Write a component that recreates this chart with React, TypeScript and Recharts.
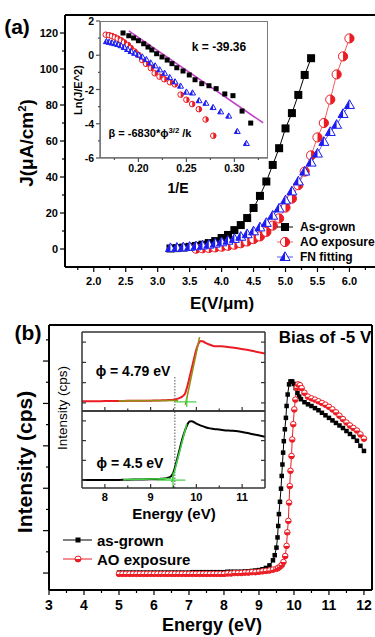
import React from 'react';
import { ComposedChart, Line, XAxis, YAxis, ReferenceLine } from 'recharts';

const FONT = '"Liberation Sans", Arial, Helvetica, sans-serif';
const RED = '#ec1c24';
const BLUE = '#1c1cf0';
const MAGENTA = '#c23fc9';
const GREEN = '#3fd13f';
const OLIVE = '#9a8a18';

// ===== (a) J-E curves =====
const aAsGrownE = [3.2, 3.3, 3.4, 3.5, 3.6, 3.7, 3.8, 3.9, 4.0, 4.1, 4.2, 4.3, 4.4, 4.5, 4.6, 4.7, 4.8, 4.9, 5.0, 5.1, 5.2, 5.3, 5.4];
const aAsGrownJ = [0.3, 0.5, 0.8, 1.2, 1.7, 2.4, 3.3, 4.4, 6.1, 7.8, 10.5, 13.3, 17.2, 22.8, 29.5, 37.5, 46.7, 56.0, 67.0, 75.5, 85.6, 96.7, 106.0];
const aAOE = [3.6, 3.7, 3.8, 3.9, 4.0, 4.1, 4.2, 4.3, 4.4, 4.5, 4.6, 4.7, 4.8, 4.9, 5.0, 5.1, 5.2, 5.3, 5.4, 5.5, 5.6, 5.7, 5.8, 5.9, 6.0];
const aAOJ = [0.2, 0.4, 0.6, 0.9, 1.3, 1.8, 2.4, 3.2, 4.2, 5.5, 7.0, 9.5, 13.0, 17.0, 23.0, 28.0, 35.5, 43.0, 52.0, 62.0, 70.0, 83.0, 97.0, 107.0, 117.0];
const aFNE = [3.2, 3.3, 3.4, 3.5, 3.6, 3.7, 3.8, 3.9, 4.0, 4.1, 4.2, 4.3, 4.4, 4.5, 4.6, 4.7, 4.8, 4.9, 5.0, 5.1, 5.2, 5.3, 5.4, 5.5, 5.6, 5.7, 5.8, 5.9, 6.0];
const aFNJ = [0.5, 0.7, 0.9, 1.2, 1.5, 1.9, 2.4, 3.0, 3.7, 4.6, 5.6, 6.8, 8.2, 9.8, 12.0, 14.5, 18.5, 22.5, 27.0, 32.0, 37.5, 43.0, 48.0, 53.0, 59.5, 65.0, 69.0, 75.0, 80.0];
const aXTicks = [1.75, 2.0, 2.25, 2.5, 2.75, 3.0, 3.25, 3.5, 3.75, 4.0, 4.25, 4.5, 4.75, 5.0, 5.25, 5.5, 5.75, 6.0, 6.25];
const aXLabels = [2.0, 2.5, 3.0, 3.5, 4.0, 4.5, 5.0, 5.5, 6.0];
const aYTicks = [0, 10, 20, 30, 40, 50, 60, 70, 80, 90, 100, 110, 120];
const aYLabels = [0, 20, 40, 60, 80, 100, 120];

// ===== (a) inset: FN plot =====
const iaAsGrownX = [0.184, 0.19, 0.195, 0.2, 0.2055, 0.21, 0.214, 0.219, 0.2246, 0.23, 0.235, 0.24, 0.2465, 0.253, 0.259, 0.266, 0.2735, 0.281, 0.29, 0.2985, 0.308, 0.317];
const iaAsGrownY = [1.3, 1.14, 1.01, 0.85, 0.67, 0.48, 0.31, 0.09, -0.1, -0.28, -0.49, -0.73, -0.92, -1.15, -1.43, -1.66, -1.78, -1.95, -2.26, -2.36, -3.26, -3.96];
const iaAOX = [0.166, 0.1695, 0.1725, 0.1755, 0.1785, 0.182, 0.185, 0.189, 0.192, 0.196, 0.2, 0.204, 0.208, 0.213, 0.217, 0.222, 0.227, 0.233, 0.238, 0.244, 0.25, 0.256, 0.263, 0.27, 0.278];
const iaAOY = [1.2, 1.17, 1.12, 1.05, 0.97, 0.87, 0.75, 0.6, 0.42, 0.22, 0.02, -0.28, -0.5, -0.75, -1.05, -1.25, -1.4, -1.58, -1.7, -2.3, -2.6, -2.85, -3.15, -3.75, -4.7];
const iaFNX = [0.1667, 0.1695, 0.1724, 0.1754, 0.1786, 0.1818, 0.1852, 0.1887, 0.1923, 0.1961, 0.2, 0.2041, 0.2083, 0.2128, 0.2174, 0.2222, 0.2273, 0.2326, 0.2381, 0.2439, 0.25, 0.2564, 0.2632, 0.2703, 0.2778, 0.2857, 0.2941, 0.303, 0.3125];
const iaFNY = [0.8, 0.76, 0.72, 0.68, 0.63, 0.56, 0.46, 0.34, 0.22, 0.12, 0.02, -0.1, -0.25, -0.45, -0.62, -0.85, -1.05, -1.3, -1.55, -1.8, -2.15, -2.2, -2.65, -2.8, -3.05, -3.3, -3.55, -4.45, -5.15];
const iaFitX = [0.19, 0.33];
const iaFitY = [1.42, -3.95];
const iaXTicks = [0.175, 0.2, 0.225, 0.25, 0.275, 0.3, 0.325];
const iaXLabels = [0.2, 0.25, 0.3];
const iaYTicks = [-6, -5, -4, -3, -2, -1, 0, 1, 2];
const iaYLabels = [-6, -4, -2, 0, 2];

// ===== (b) UPS spectra =====
const bAsGrownE = [5.0, 5.1, 5.2, 5.3, 5.4, 5.5, 5.6, 5.7, 5.8, 5.9, 6.0, 6.1, 6.2, 6.3, 6.4, 6.5, 6.6, 6.7, 6.8, 6.9, 7.0, 7.1, 7.2, 7.3, 7.4, 7.5, 7.6, 7.7, 7.8, 7.9, 8.0, 8.1, 8.2, 8.3, 8.4, 8.5, 8.6, 8.7, 8.8, 8.9, 9.0, 9.1, 9.2, 9.3, 9.4, 9.45, 9.5, 9.53, 9.55, 9.57, 9.6, 9.63, 9.65, 9.67, 9.69, 9.71, 9.74, 9.77, 9.79, 9.82, 9.86, 9.9, 9.95, 10.0, 10.05, 10.1, 10.15, 10.2, 10.3, 10.4, 10.5, 10.6, 10.7, 10.8, 10.9, 11.0, 11.1, 11.2, 11.3, 11.4, 11.5, 11.6, 11.7, 11.8, 11.9, 12.0];
const bAsGrownI = [0.01, 0.01, 0.01, 0.01, 0.01, 0.01, 0.01, 0.01, 0.01, 0.01, 0.01, 0.01, 0.01, 0.01, 0.01, 0.01, 0.01, 0.01, 0.01, 0.01, 0.01, 0.02, 0.02, 0.02, 0.02, 0.02, 0.02, 0.02, 0.02, 0.02, 0.02, 0.03, 0.03, 0.03, 0.03, 0.03, 0.04, 0.04, 0.05, 0.06, 0.07, 0.09, 0.12, 0.18, 0.3, 0.42, 0.6, 0.84, 1.11, 1.39, 1.68, 1.99, 2.29, 2.56, 2.84, 3.11, 3.39, 3.66, 3.94, 4.21, 4.45, 4.52, 4.52, 4.46, 4.36, 4.25, 4.16, 4.1, 4.03, 3.98, 3.94, 3.89, 3.84, 3.78, 3.72, 3.66, 3.6, 3.54, 3.48, 3.42, 3.35, 3.28, 3.21, 3.12, 3.0, 2.88];
const bAOE = [5.0, 5.1, 5.2, 5.3, 5.4, 5.5, 5.6, 5.7, 5.8, 5.9, 6.0, 6.1, 6.2, 6.3, 6.4, 6.5, 6.6, 6.7, 6.8, 6.9, 7.0, 7.1, 7.2, 7.3, 7.4, 7.5, 7.6, 7.7, 7.8, 7.9, 8.0, 8.1, 8.2, 8.3, 8.4, 8.5, 8.6, 8.7, 8.8, 8.9, 9.0, 9.1, 9.2, 9.3, 9.4, 9.5, 9.55, 9.6, 9.65, 9.7, 9.75, 9.79, 9.81, 9.84, 9.86, 9.88, 9.9, 9.93, 9.95, 9.98, 10.01, 10.04, 10.08, 10.12, 10.17, 10.22, 10.3, 10.4, 10.5, 10.6, 10.7, 10.8, 10.9, 11.0, 11.1, 11.2, 11.3, 11.4, 11.5, 11.6, 11.7, 11.8, 11.9, 12.0];
const bAOI = [-0.02, -0.02, -0.02, -0.02, -0.02, -0.02, -0.02, -0.02, -0.02, -0.02, -0.02, -0.02, -0.02, -0.02, -0.02, -0.02, -0.02, -0.02, -0.02, -0.02, -0.02, -0.02, -0.02, -0.02, -0.02, -0.02, -0.02, -0.02, -0.02, -0.02, -0.02, -0.01, -0.01, 0.0, 0.0, 0.0, 0.01, 0.01, 0.02, 0.02, 0.03, 0.04, 0.05, 0.06, 0.08, 0.1, 0.12, 0.15, 0.19, 0.26, 0.4, 0.64, 0.96, 1.23, 1.66, 2.05, 2.41, 2.76, 3.15, 3.51, 3.86, 4.09, 4.37, 4.45, 4.43, 4.36, 4.25, 4.16, 4.12, 4.09, 4.05, 4.01, 3.97, 3.92, 3.86, 3.79, 3.71, 3.63, 3.55, 3.48, 3.42, 3.36, 3.27, 3.17];
const bXTicks = [3, 3.5, 4, 4.5, 5, 5.5, 6, 6.5, 7, 7.5, 8, 8.5, 9, 9.5, 10, 10.5, 11, 11.5, 12];
const bXLabels = [3, 4, 5, 6, 7, 8, 9, 10, 11, 12];
const bYTicks = [0, 0.5, 1, 1.5, 2, 2.5, 3, 3.5, 4, 4.5, 5, 5.5];
const bYMajors = [0, 1, 2, 3, 4, 5];

// ===== (b) inset: secondary-electron cutoff =====
const ibAOE = [7.5, 7.8, 8.0, 8.3, 8.5, 8.8, 9.0, 9.2, 9.3, 9.4, 9.5, 9.55, 9.6, 9.65, 9.7, 9.75, 9.8, 9.85, 9.9, 9.95, 10.0, 10.05, 10.1, 10.15, 10.2, 10.3, 10.4, 10.55, 10.7, 10.9, 11.1, 11.3, 11.5];
const ibAOI = [0.08, 0.08, 0.09, 0.09, 0.1, 0.1, 0.11, 0.12, 0.13, 0.14, 0.16, 0.18, 0.21, 0.26, 0.33, 0.45, 0.8, 1.25, 1.72, 2.2, 2.65, 2.95, 3.05, 3.03, 2.96, 2.87, 2.8, 2.8, 2.76, 2.7, 2.62, 2.53, 2.44];
const ibAsGrownE = [7.5, 7.8, 8.0, 8.3, 8.5, 8.8, 9.0, 9.2, 9.3, 9.35, 9.4, 9.45, 9.5, 9.55, 9.6, 9.65, 9.7, 9.75, 9.8, 9.85, 9.9, 9.95, 10.0, 10.1, 10.2, 10.3, 10.45, 10.6, 10.8, 11.0, 11.2, 11.4, 11.5];
const ibAsGrownI = [0.0, 0.0, 0.0, 0.01, 0.02, 0.03, 0.04, 0.06, 0.08, 0.1, 0.13, 0.2, 0.4, 0.8, 1.25, 1.7, 2.15, 2.5, 2.8, 2.97, 2.98, 2.93, 2.86, 2.76, 2.68, 2.62, 2.57, 2.53, 2.5, 2.44, 2.34, 2.25, 2.2];
const ibTopBaseFitE = [8.3, 9.6];
const ibTopBaseFitI = [0.1, 0.12];
const ibTopEdgeFitE = [9.76, 10.07];
const ibTopEdgeFitI = [-0.1, 3.25];
const ibTopCrossHE = [9.53, 10.0];
const ibTopCrossHI = [0.05, 0.05];
const ibTopCrossVE = [9.79, 9.79];
const ibTopCrossVI = [-0.2, 0.25];
const ibBotBaseFitE = [8.4, 9.45];
const ibBotBaseFitI = [0.02, 0.08];
const ibBotEdgeFitE = [9.46, 9.79];
const ibBotEdgeFitI = [-0.1, 2.85];
const ibBotCrossHE = [9.14, 9.76];
const ibBotCrossHI = [0.0, 0.0];
const ibBotCrossVE = [9.49, 9.49];
const ibBotCrossVI = [-0.4, 0.4];
const ibCutoffE = 9.53;
const ibXTicks = [8, 8.5, 9, 9.5, 10, 10.5, 11];
const ibXLabels = [8, 9, 10, 11];
const ibYTicks = [0, 1, 2, 3];

const pts = (xs: number[], ys: number[]) => xs.map((x, i) => ({ x, y: ys[i] }));

// ---------- marker shapes ----------
const sq = (cx: number, cy: number, s: number, fill: string, key?: any) => (
  <rect key={key} x={cx - s / 2} y={cy - s / 2} width={s} height={s} fill={fill} />
);
const halfCirc = (cx: number, cy: number, r: number, col: string, half: 'right' | 'bottom', key?: any) => {
  const d = half === 'right'
    ? `M${cx},${cy - r} A${r},${r} 0 0 1 ${cx},${cy + r} Z`
    : `M${cx - r},${cy} A${r},${r} 0 0 0 ${cx + r},${cy} Z`;
  return (
    <g key={key}>
      <circle cx={cx} cy={cy} r={r} fill="#fff" stroke={col} strokeWidth={1} />
      <path d={d} fill={col} />
    </g>
  );
};
const halfTri = (cx: number, cy: number, s: number, col: string, key?: any) => {
  const h = s * 0.87;
  const t = cy - h * 0.6;
  const b = cy + h * 0.4;
  return (
    <g key={key}>
      <polygon points={`${cx},${t} ${cx - s / 2},${b} ${cx + s / 2},${b}`} fill="#fff" stroke={col} strokeWidth={1} />
      <polygon points={`${cx},${t} ${cx - s / 2},${b} ${cx},${b}`} fill={col} />
    </g>
  );
};
const ok = (p: any) => p && p.cx != null && p.cy != null && !isNaN(p.cx) && !isNaN(p.cy);
const sqDot = (s: number, fill: string) => (p: any) => ok(p) ? sq(p.cx, p.cy, s, fill, p.index) : <g key={p.index} />;
const circDot = (r: number, col: string, half: 'right' | 'bottom') => (p: any) => ok(p) ? halfCirc(p.cx, p.cy, r, col, half, p.index) : <g key={p.index} />;
const triDot = (s: number, col: string) => (p: any) => ok(p) ? halfTri(p.cx, p.cy, s, col, p.index) : <g key={p.index} />;

// ---------- tick renderer ----------
type TickCfg = {
  side: 'left' | 'right' | 'bottom' | 'top';
  majors: number[];
  majorLen: number;
  minorLen: number;
  inward?: boolean;
  label?: (v: number) => string;
  fontSize?: number;
  gap?: number;
  color?: string;
  width?: number;
};
const makeTick = (c: TickCfg) => (props: any) => {
  const { x, y, payload } = props;
  const v: number = payload.value;
  const isMajor = c.majors.some((m) => Math.abs(m - v) < 1e-9);
  const len = isMajor ? c.majorLen : c.minorLen;
  const s = c.inward ? -1 : 1;
  const out = c.inward ? 0 : len;
  const col = c.color ?? '#000';
  const sw = c.width ?? 1.2;
  const fs = c.fontSize ?? 11;
  const gap = c.gap ?? 2;
  const lbl = isMajor && c.label ? c.label(v) : null;
  const tp = { fontFamily: FONT, fontWeight: 700, fontSize: fs, fill: '#000' } as any;
  let line: any = null;
  let text: any = null;
  if (c.side === 'left') {
    line = <line x1={x} y1={y} x2={x - s * len} y2={y} stroke={col} strokeWidth={sw} />;
    if (lbl) text = <text x={x - out - gap} y={y} textAnchor="end" dominantBaseline="central" {...tp}>{lbl}</text>;
  } else if (c.side === 'right') {
    line = <line x1={x} y1={y} x2={x + s * len} y2={y} stroke={col} strokeWidth={sw} />;
  } else if (c.side === 'bottom') {
    line = <line x1={x} y1={y} x2={x} y2={y + s * len} stroke={col} strokeWidth={sw} />;
    if (lbl) text = <text x={x} y={y + out + gap + fs / 2} textAnchor="middle" dominantBaseline="central" {...tp}>{lbl}</text>;
  } else {
    line = <line x1={x} y1={y} x2={x} y2={y - s * len} stroke={col} strokeWidth={sw} />;
  }
  return <g>{line}{text}</g>;
};

const AX2 = { stroke: '#000', strokeWidth: 2 };
const AXG = { stroke: '#7a7a7a', strokeWidth: 1.5 };
const AXD = { stroke: '#333', strokeWidth: 1.5 };

const Txt = ({ x, y, size, bold = true, rotate = false, children }: any) => (
  <div
    style={{
      position: 'absolute', left: x, top: y,
      transform: `translate(-50%,-50%)${rotate ? ' rotate(-90deg)' : ''}`,
      fontSize: size, fontWeight: bold ? 700 : 400, whiteSpace: 'nowrap', lineHeight: 1,
      fontFamily: FONT, color: '#000',
    }}
  >
    {children}
  </div>
);

export default function App() {
  const aAsGrown = pts(aAsGrownE, aAsGrownJ);
  const aAO = pts(aAOE, aAOJ);
  const aFN = pts(aFNE, aFNJ);
  const iaAsGrown = pts(iaAsGrownX, iaAsGrownY);
  const iaAO = pts(iaAOX, iaAOY);
  const iaFN = pts(iaFNX, iaFNY);
  const iaFit = pts(iaFitX, iaFitY);
  const bAsGrown = pts(bAsGrownE, bAsGrownI);
  const bAO = pts(bAOE, bAOI);
  const ibAO = pts(ibAOE, ibAOI);
  const ibAsGrown = pts(ibAsGrownE, ibAsGrownI);

  const ibDomX: [number, number] = [7.5, 11.5];
  const ibDomY: [number, number] = [-0.4, 3.5];
  const ibFit = (xs: number[], ys: number[], col: string, w: number, k: string) => (
    <Line key={k} data={pts(xs, ys)} dataKey="y" type="linear" stroke={col} strokeWidth={w} dot={false} isAnimationActive={false} />
  );

  const insetBAxes = (showLabels: boolean) => [
    <XAxis key="xb" type="number" dataKey="x" domain={ibDomX} allowDataOverflow ticks={ibXTicks} interval={0}
      height={showLabels ? 22 : 1} tickSize={0} tickMargin={0} tickLine={false} axisLine={AXD}
      tick={makeTick({ side: 'bottom', majors: ibXLabels, majorLen: 4, minorLen: 2.5, inward: true, label: showLabels ? (v) => String(v) : undefined, fontSize: 11, gap: 3, color: '#333' })} />,
    <XAxis key="xt" xAxisId="t" orientation="top" type="number" domain={ibDomX} allowDataOverflow ticks={ibXTicks} interval={0}
      height={1} tickSize={0} tickMargin={0} tickLine={false} axisLine={AXD}
      tick={makeTick({ side: 'top', majors: ibXLabels, majorLen: 4, minorLen: 2.5, inward: true, color: '#333' })} />,
    <YAxis key="yl" type="number" dataKey="y" domain={ibDomY} allowDataOverflow ticks={ibYTicks} interval={0}
      width={20} tickSize={0} tickMargin={0} tickLine={false} axisLine={AXD}
      tick={makeTick({ side: 'left', majors: ibYTicks, majorLen: 4, minorLen: 4, inward: true, color: '#333' })} />,
    <YAxis key="yr" yAxisId="r" orientation="right" type="number" domain={ibDomY} allowDataOverflow ticks={ibYTicks} interval={0}
      width={1} tickSize={0} tickMargin={0} tickLine={false} axisLine={AXD}
      tick={makeTick({ side: 'right', majors: ibYTicks, majorLen: 4, minorLen: 4, inward: true, color: '#333' })} />,
  ];

  return (
    <div style={{ position: 'absolute', left: 0, top: 0, width: 375, height: 637, background: '#fff', overflow: 'hidden', fontFamily: FONT }}>
      {/* ================= Panel (a) main ================= */}
      <div style={{ position: 'absolute', left: 0, top: 0 }}>
        <ComposedChart width={375} height={300} margin={{ top: 14, right: 0, bottom: 13, left: 0 }}>
          <XAxis type="number" dataKey="x" domain={[1.55, 6.4]} allowDataOverflow ticks={aXTicks} interval={0}
            height={20} tickSize={0} tickMargin={0} tickLine={false} axisLine={AX2}
            tick={makeTick({ side: 'bottom', majors: aXLabels, majorLen: 5, minorLen: 3, label: (v) => v.toFixed(1), fontSize: 11, gap: 3 })} />
          <XAxis xAxisId="top" orientation="top" type="number" domain={[1.55, 6.4]} allowDataOverflow height={1} tick={false} tickLine={false} axisLine={AX2} />
          <YAxis type="number" dataKey="y" domain={[-10, 130]} allowDataOverflow ticks={aYTicks} interval={0}
            width={65} tickSize={0} tickMargin={0} tickLine={false} axisLine={AX2}
            tick={makeTick({ side: 'left', majors: aYLabels, majorLen: 5, minorLen: 3, label: (v) => String(v), fontSize: 11, gap: 2 })} />
          <Line data={aAsGrown} dataKey="y" type="linear" stroke="#000" strokeWidth={1} dot={sqDot(8, '#000')} isAnimationActive={false} />
          <Line data={aAO} dataKey="y" type="linear" stroke="#f06060" strokeWidth={1} dot={circDot(4.6, RED, 'right')} isAnimationActive={false} />
          <Line data={aFN} dataKey="y" type="linear" stroke="#5a5aff" strokeWidth={1} dot={triDot(10, BLUE)} isAnimationActive={false} />
        </ComposedChart>
      </div>

      {/* legend (a) */}
      <svg style={{ position: 'absolute', left: 270, top: 218 }} width={105} height={48}>
        <line x1={7} y1={9} x2={23} y2={9} stroke="#000" strokeWidth={1} />
        {sq(15, 9, 8, '#000')}
        <text x={30} y={9} dominantBaseline="central" fontFamily={FONT} fontWeight={700} fontSize={12}>As-grown</text>
        <line x1={7} y1={24} x2={23} y2={24} stroke="#f06060" strokeWidth={1} />
        {halfCirc(15, 24, 4.6, RED, 'right')}
        <text x={30} y={24} dominantBaseline="central" fontFamily={FONT} fontWeight={700} fontSize={12}>AO exposure</text>
        <line x1={7} y1={39} x2={23} y2={39} stroke="#5a5aff" strokeWidth={1} />
        {halfTri(15, 39, 10, BLUE)}
        <text x={30} y={39} dominantBaseline="central" fontFamily={FONT} fontWeight={700} fontSize={12}>FN fitting</text>
      </svg>

      {/* ================= Panel (a) inset: plot body ================= */}
      <div style={{ position: 'absolute', left: 100, top: 21, width: 168, height: 137, background: '#fff', boxSizing: 'border-box', border: '1.5px solid #7a7a7a' }} />
      <div style={{ position: 'absolute', left: 60, top: 10, width: 208, height: 168 }}>
        <ComposedChart width={208} height={168} margin={{ top: 11, right: 0, bottom: 0, left: 40 }}>
          <XAxis type="number" dataKey="x" domain={[0.16, 0.335]} allowDataOverflow ticks={iaXTicks} interval={0}
            height={20} tickSize={0} tickMargin={0} tickLine={false} axisLine={AXG}
            tick={makeTick({ side: 'bottom', majors: iaXLabels, majorLen: 4, minorLen: 2, label: (v) => v.toFixed(2), fontSize: 10.5, gap: 1, color: '#555' })} />
          <YAxis type="number" dataKey="y" domain={[-6, 2]} allowDataOverflow width={0} tick={false} tickLine={false} axisLine={false} />
          <Line data={iaAO} dataKey="y" type="linear" stroke="none" strokeWidth={0} dot={circDot(2.8, RED, 'right')} isAnimationActive={false} />
          <Line data={iaFN} dataKey="y" type="linear" stroke="none" strokeWidth={0} dot={triDot(6, BLUE)} isAnimationActive={false} />
          <Line data={iaAsGrown} dataKey="y" type="linear" stroke="none" strokeWidth={0} dot={sqDot(5, '#000')} isAnimationActive={false} />
          <Line data={iaFit} dataKey="y" type="linear" stroke={MAGENTA} strokeWidth={1.6} dot={false} isAnimationActive={false} />
        </ComposedChart>
      </div>
      {/* ================= Panel (a) inset: y axis ================= */}
      <div style={{ position: 'absolute', left: 60, top: 10, width: 42, height: 168 }}>
        <ComposedChart width={42} height={168} margin={{ top: 11, right: 2, bottom: 20, left: 0 }}>
          <XAxis type="number" dataKey="x" domain={[0.16, 0.335]} allowDataOverflow hide />
          <YAxis type="number" dataKey="y" domain={[-6, 2]} allowDataOverflow ticks={iaYTicks} interval={0}
            width={40} tickSize={0} tickMargin={0} tickLine={false} axisLine={AXG}
            tick={makeTick({ side: 'left', majors: iaYLabels, majorLen: 4, minorLen: 2, label: (v) => String(v), fontSize: 10.5, gap: 2, color: '#555' })} />
        </ComposedChart>
      </div>

      {/* ================= Panel (b) main ================= */}
      <div style={{ position: 'absolute', left: 0, top: 300 }}>
        <ComposedChart width={375} height={337} margin={{ top: 24, right: 2, bottom: 27, left: 0 }}>
          <XAxis type="number" dataKey="x" domain={[3, 12.23]} allowDataOverflow ticks={bXTicks} interval={0}
            height={20} tickSize={0} tickMargin={0} tickLine={false} axisLine={AX2}
            tick={makeTick({ side: 'bottom', majors: bXLabels, majorLen: 5, minorLen: 3, label: (v) => String(v), fontSize: 14, gap: 3 })} />
          <XAxis xAxisId="top" orientation="top" type="number" domain={[3, 12.23]} allowDataOverflow height={1} tick={false} tickLine={false} axisLine={AX2} />
          <YAxis type="number" dataKey="y" domain={[-0.4, 5.85]} allowDataOverflow ticks={bYTicks} interval={0}
            width={49} tickSize={0} tickMargin={0} tickLine={false} axisLine={AX2}
            tick={makeTick({ side: 'left', majors: bYMajors, majorLen: 6, minorLen: 3 })} />
          <YAxis yAxisId="r" orientation="right" type="number" domain={[-0.4, 5.85]} allowDataOverflow width={1} tick={false} tickLine={false} axisLine={AX2} />
          <Line data={bAsGrown} dataKey="y" type="linear" stroke="#000" strokeWidth={1} dot={sqDot(4.5, '#000')} isAnimationActive={false} />
          <Line data={bAO} dataKey="y" type="linear" stroke={RED} strokeWidth={1} dot={circDot(2.8, RED, 'bottom')} isAnimationActive={false} />
        </ComposedChart>
      </div>

      {/* legend (b) */}
      <svg style={{ position: 'absolute', left: 58, top: 528 }} width={150} height={42}>
        <line x1={5} y1={12} x2={34} y2={12} stroke="#000" strokeWidth={1} />
        {sq(20, 12, 5, '#000')}
        <text x={39} y={12} dominantBaseline="central" fontFamily={FONT} fontWeight={700} fontSize={15}>as-grown</text>
        <line x1={5} y1={31} x2={34} y2={31} stroke={RED} strokeWidth={1} />
        {halfCirc(20, 31, 3, RED, 'bottom')}
        <text x={39} y={31} dominantBaseline="central" fontFamily={FONT} fontWeight={700} fontSize={15}>AO exposure</text>
      </svg>

      {/* ================= Panel (b) inset: top (AO exposure) ================= */}
      <div style={{ position: 'absolute', left: 62, top: 330 }}>
        <ComposedChart width={205} height={83} margin={{ top: 1, right: 1, bottom: 1, left: 0 }}>
          {insetBAxes(false)}
          <ReferenceLine segment={[{ x: ibCutoffE, y: 1.28 }, { x: ibCutoffE, y: -0.4 }]} stroke="#555" strokeDasharray="1.5 1.5" strokeWidth={1} />
          <Line data={ibAO} dataKey="y" type="monotone" stroke={RED} strokeWidth={2} dot={false} isAnimationActive={false} />
          {ibFit(ibTopBaseFitE, ibTopBaseFitI, OLIVE, 1.6, 'tb')}
          {ibFit(ibTopEdgeFitE, ibTopEdgeFitI, OLIVE, 1.6, 'te')}
          {ibFit(ibTopCrossHE, ibTopCrossHI, GREEN, 1.2, 'th')}
          {ibFit(ibTopCrossVE, ibTopCrossVI, GREEN, 1.2, 'tv')}
        </ComposedChart>
      </div>

      {/* ================= Panel (b) inset: bottom (as-grown) ================= */}
      <div style={{ position: 'absolute', left: 62, top: 409 }}>
        <ComposedChart width={205} height={101} margin={{ top: 1, right: 1, bottom: 0, left: 0 }}>
          {insetBAxes(true)}
          <ReferenceLine x={ibCutoffE} stroke="#555" strokeDasharray="1.5 1.5" strokeWidth={1} />
          <Line data={ibAsGrown} dataKey="y" type="monotone" stroke="#000" strokeWidth={2} dot={false} isAnimationActive={false} />
          {ibFit(ibBotBaseFitE, ibBotBaseFitI, GREEN, 1.6, 'bb')}
          {ibFit(ibBotEdgeFitE, ibBotEdgeFitI, GREEN, 1.6, 'be')}
          {ibFit(ibBotCrossHE, ibBotCrossHI, GREEN, 1.2, 'bh')}
          {ibFit(ibBotCrossVE, ibBotCrossVI, GREEN, 1.2, 'bv')}
        </ComposedChart>
      </div>

      {/* ================= Text ================= */}
      <Txt x={17} y={26} size={21}>(a)</Txt>
      <Txt x={26} y={143} size={19} rotate>J(μA/cm<span style={{ fontSize: '0.6em', verticalAlign: '0.6em' }}>2</span>)</Txt>
      <Txt x={222} y={303} size={17}>E(V/μm)</Txt>
      <Txt x={78} y={90} size={11} rotate>Ln(J/E^2)</Txt>
      <Txt x={178} y={188} size={14}>1/E</Txt>
      <Txt x={219} y={47} size={12}>k = -39.36</Txt>
      <Txt x={150} y={133} size={11}>β = -6830*ϕ<span style={{ fontSize: '0.7em', verticalAlign: '0.5em' }}>3/2</span> /k</Txt>

      <Txt x={28} y={332} size={21}>(b)</Txt>
      <Txt x={325} y={337} size={17}>Bias of -5 V</Txt>
      <Txt x={24} y={462} size={21} rotate>Intensity (cps)</Txt>
      <Txt x={212} y={625} size={18}>Energy (eV)</Txt>
      <Txt x={63} y={408} size={13.5} bold={false} rotate>Intensity (cps)</Txt>
      <Txt x={133} y={371} size={14}>ϕ = 4.79 eV</Txt>
      <Txt x={130} y={463} size={14}>ϕ = 4.5 eV</Txt>
      <Txt x={174} y={513} size={15}>Energy (eV)</Txt>
    </div>
  );
}
